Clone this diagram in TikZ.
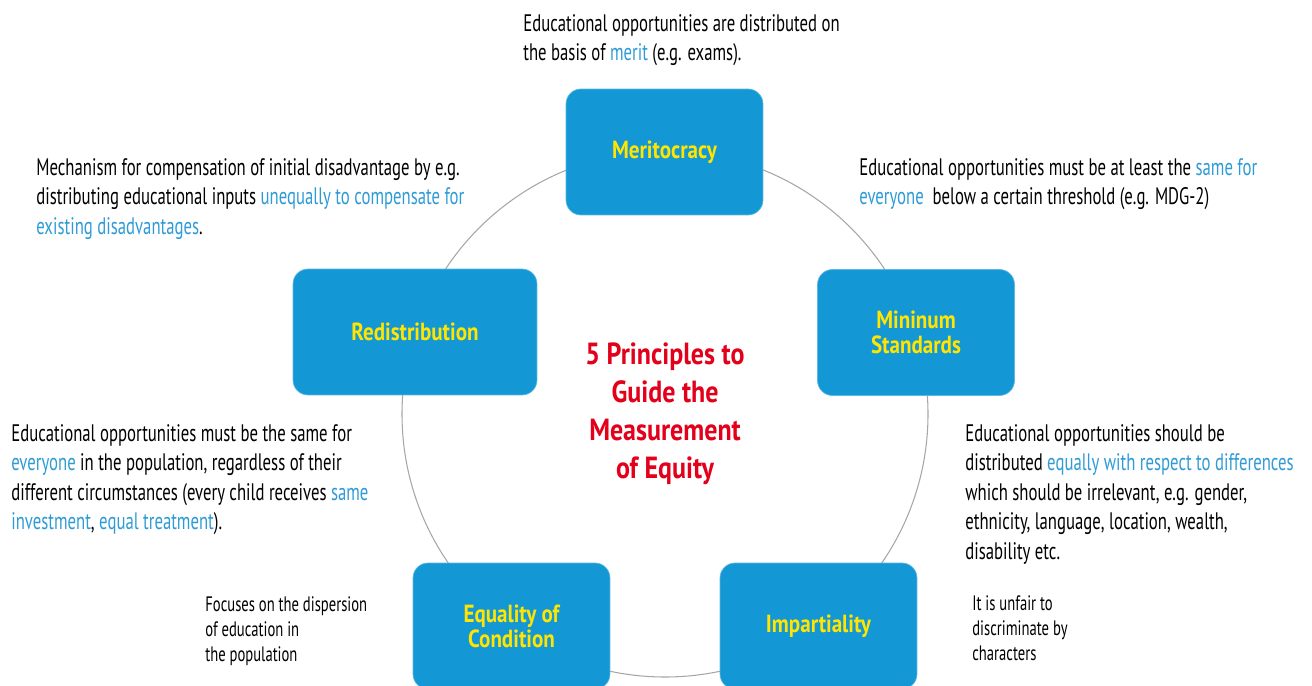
\documentclass[tikz,border=0pt]{standalone}
\usepackage{fontspec}
\setmainfont[FakeStretch=0.70, BoldFeatures={FakeStretch=0.85}]{PT Sans}
\definecolor{boxblue}{HTML}{1497D5}
\definecolor{boxedge}{HTML}{5DB7E3}
\definecolor{labelyellow}{HTML}{FFE500}
\definecolor{titlered}{HTML}{E2001A}
\definecolor{linkblue}{HTML}{2E9BD6}
\definecolor{ringgray}{HTML}{A6A6A6}
\newcommand{\hl}[1]{\textcolor{linkblue}{#1}}
\begin{document}
\begin{tikzpicture}[x=0.02cm, y=-0.02cm,
    principle/.style={draw=boxedge, line width=0.4pt, fill=boxblue, rounded corners=0.3cm,
        minimum width=3.94cm, minimum height=2.52cm, align=center, text=labelyellow,
        font=\fontsize{14.1}{14.2}\selectfont\bfseries},
    desc/.style={anchor=north west, inner sep=0pt, align=left,
        font=\fontsize{13.6}{16.8}\selectfont},
    smalldesc/.style={anchor=north west, inner sep=0pt, align=left,
        font=\fontsize{11.9}{14.4}\selectfont}]
    \useasboundingbox (0, 0) rectangle (1312, 686);
    % ring behind the boxes
    \draw[ringgray, line width=0.6pt] (665, 414) circle (263);
    % the five principles
    \node[principle] (merit) at (664.5, 152) {Meritocracy};
    \node[principle, minimum width=4.88cm] (redist) at (415, 332) {Redistribution};
    \node[principle] (minstd) at (916, 332.5) {Mininum\\Standards};
    \node[principle] (equal) at (511.5, 626) {Equality of\\Condition};
    \node[principle] (impart) at (818.5, 626) {Impartiality};
    % centre title
    \node[align=center, text=titlered, font=\fontsize{17.4}{21.6}\selectfont\bfseries] (title) at (665, 414)
        {5 Principles to\\Guide the\\Measurement\\of Equity};
    % descriptions
    \node[desc] (meritdesc) at (523, 14) {Educational opportunities are distributed on\\
        the basis of \hl{merit} (e.g. exams).};
    \node[desc] (redistdesc) at (36, 158) {Mechanism for compensation of initial disadvantage by e.g.\\
        distributing educational inputs \hl{unequally to compensate for}\\
        \hl{existing disadvantages}.};
    \node[desc] (minstddesc) at (859, 158) {Educational opportunities must be at least the \hl{same for}\\
        \hl{everyone}~ below a certain threshold (e.g. MDG-2)};
    \node[desc] (equaldesc) at (11, 424) {Educational opportunities must be the same for\\
        \hl{everyone} in the population, regardless of their\\
        different circumstances (every child receives \hl{same}\\
        \hl{investment}, \hl{equal treatment}).};
    \node[desc] (impartdesc) at (965, 424) {Educational opportunities should be\\
        distributed \hl{equally with respect to differences}\\
        which should be irrelevant, e.g. gender,\\
        ethnicity, language, location, wealth,\\
        disability etc.};
    \node[smalldesc] (equalnote) at (205, 596) {Focuses on the dispersion\\of education in\\the population};
    \node[smalldesc] (impartnote) at (972, 595) {It is unfair to\\discriminate by\\characters};
\end{tikzpicture}
\end{document}
